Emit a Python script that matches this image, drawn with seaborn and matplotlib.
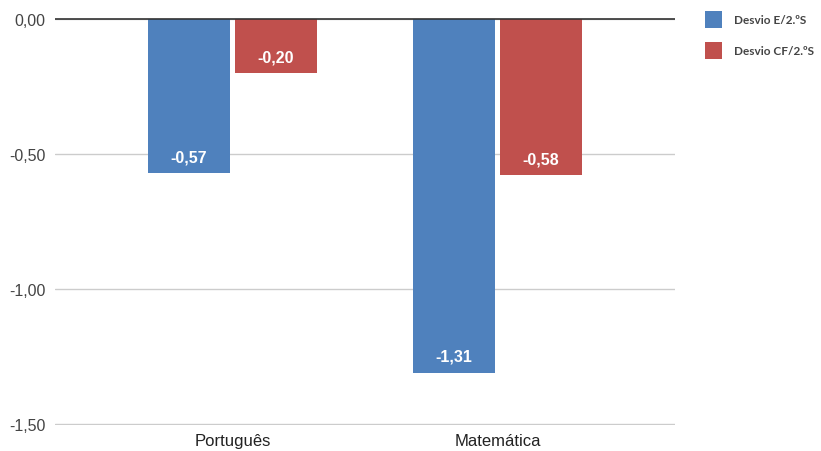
import pandas as pd
import seaborn as sns
import matplotlib.pyplot as plt

# Dados
disciplinas = ["Português", "Matemática"]
desvio_e = [-0.57, -1.31]
desvio_cf = [-0.20, -0.58]
series = ["Desvio E/2.ºS", "Desvio CF/2.ºS"]
yticks = [0.0, -0.5, -1.0, -1.5]

df = pd.DataFrame({
    "Disciplina": disciplinas * 2,
    "Serie": [series[0]] * 2 + [series[1]] * 2,
    "Valor": desvio_e + desvio_cf,
})

sns.set_style("white")
plt.rcParams["font.family"] = ["Liberation Sans", "DejaVu Sans"]

fig = plt.figure(figsize=(8.21, 4.52), dpi=100)
ax = fig.add_axes([0.067, 0.0575, 0.755, 0.900])

sns.barplot(data=df, x="Disciplina", y="Valor", hue="Serie",
            palette=["#4F81BD", "#C0504D"], saturation=1,
            width=0.655, gap=0.05, linewidth=0,
            ax=ax, legend=True)

ax.set_ylim(-1.504, 0.002)
ax.set_xlim(-0.67, 1.67)
ax.set_yticks(yticks)
ax.set_yticklabels([f"{v:.2f}".replace(".", ",") for v in yticks],
                   color="#444444", fontsize=11.5)
ax.tick_params(axis="x", labelsize=12, colors="#222222", length=0, pad=6)
ax.tick_params(axis="y", length=0, pad=7)
ax.yaxis.grid(True, color="#cccccc", linewidth=1)
ax.set_axisbelow(True)
ax.axhline(0, color="#333333", linewidth=1.2, zorder=5)
for s in ax.spines.values():
    s.set_visible(False)
ax.set_xlabel("")
ax.set_ylabel("")

# Rótulos de dados
for cont in ax.containers:
    for bar in cont:
        h = bar.get_height()
        ax.text(bar.get_x() + bar.get_width() / 2, h + 0.06,
                f"{h:.2f}".replace(".", ","), ha="center", va="center",
                color="white", fontsize=11.5, fontweight="bold")

handles, labels = ax.get_legend_handles_labels()
ax.get_legend().remove()
leg = fig.legend(handles, labels, loc="upper left",
                 bbox_to_anchor=(694 / 821, 1 - 1 / 452), frameon=False,
                 prop={"family": "Lato", "weight": "bold", "size": 8.5},
                 handlelength=1.5, handleheight=1.9,
                 labelspacing=1.15, handletextpad=1.0, borderpad=0.4)
for t in leg.get_texts():
    t.set_color("#444444")

fig.savefig("out.png", dpi=100)
